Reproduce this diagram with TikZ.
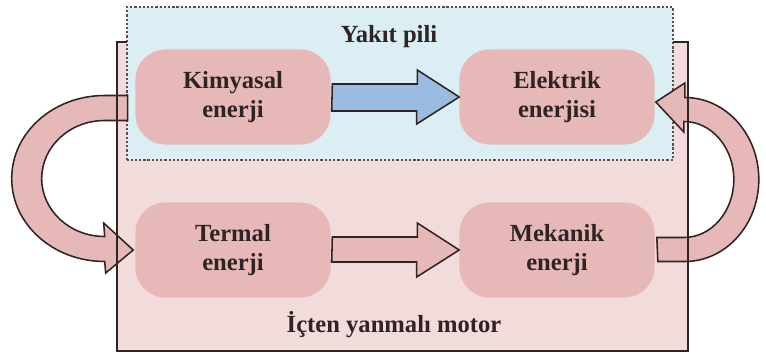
\documentclass[tikz,border=0pt]{standalone}
\usepackage{fontspec}
\setmainfont{Liberation Serif}
\usetikzlibrary{calc}
\definecolor{motorPink}{HTML}{F2DCDB}
\definecolor{cellBlue}{HTML}{DAEEF3}
\definecolor{boxRose}{HTML}{E6B9B8}
\definecolor{arrowBlue}{HTML}{9BBBE0}
\definecolor{inkDark}{HTML}{2E2424}

\begin{document}
\begin{tikzpicture}[x=0.025cm, y=0.025cm,
  font=\fontsize{17.5}{20.5}\selectfont\bfseries, text=inkDark,
  energybox/.style={rounded corners=0.75cm, fill=boxRose, minimum width=4.875cm,
                minimum height=2.375cm, align=center, inner sep=0pt},
  fatarr/.style={draw=inkDark, line width=1.1pt, line join=miter},
  fatpink/.style={fatarr, fill=boxRose},
  fatblue/.style={fatarr, fill=arrowBlue},
  frameline/.style={draw=inkDark, line width=1.1pt},
]
  \useasboundingbox (0,0) rectangle (766,356);
  % Motor frame and fuel cell frame
  \fill[motorPink] (117,5) rectangle (688,314);
  \draw[fill=cellBlue, draw=inkDark!80, line width=1.8pt, dash pattern=on 1.6pt off 1.4pt]
    (127,196) rectangle (673,349);
  \node (cell) at (389,319) {Yakıt pili};
  \node (motor) at (394,31) {İçten yanmalı motor};
  % Energy boxes
  \node[energybox] (kim) at (233,259) {Kimyasal\\enerji};
  \node[energybox] (ele) at (557,259) {Elektrik\\enerjisi};
  \node[energybox] (ter) at (233,106) {Termal\\enerji};
  \node[energybox] (mek) at (557,106) {Mekanik\\enerji};
  % Straight arrows
  \draw[fatblue] (kim.east) ++(1.5,13) -- ++(85,0) -- ++(0,14) -- (ele.west)
    -- ++(-42.5,-27) -- ++(0,13) -- ++(-85,0) -- cycle;
  \draw[fatpink] (ter.east) ++(1.5,13) -- ++(85,0) -- ++(0,14) -- (mek.west)
    -- ++(-42.5,-27) -- ++(0,15) -- ++(-85,0) -- cycle;
  % Curved arrows
  \draw[fatpink] ($(kim.west)+(-7.5,1.5)$) -- ++(-23,0)
    arc[start angle=90, end angle=270, x radius=93, y radius=83]
    -- ++(1,-11.5) -- ($(ter.west)+(-2,0)$) -- ++(-29.5,27) -- ++(1,-13.5)
    arc[start angle=270, end angle=90, x radius=63, y radius=58]
    -- ++(23,0) -- cycle;
  \draw[fatpink] ($(mek.east)+(3,-11.5)$) -- ++(27,0)
    arc[start angle=-90, end angle=90, x radius=74, y radius=82]
    -- ++(0,14.5) -- ($(ele.east)+(1,-5)$) -- ++(28,-30) -- ++(0,10.5)
    arc[start angle=90, end angle=-90, x radius=50, y radius=58]
    -- ++(-27,0) -- cycle;
  % Motor frame outline on top
  \draw[frameline] (127,314) -- (117,314) -- (117,5) -- (688,5) -- (688,314) -- (673,314);
\end{tikzpicture}
\end{document}
